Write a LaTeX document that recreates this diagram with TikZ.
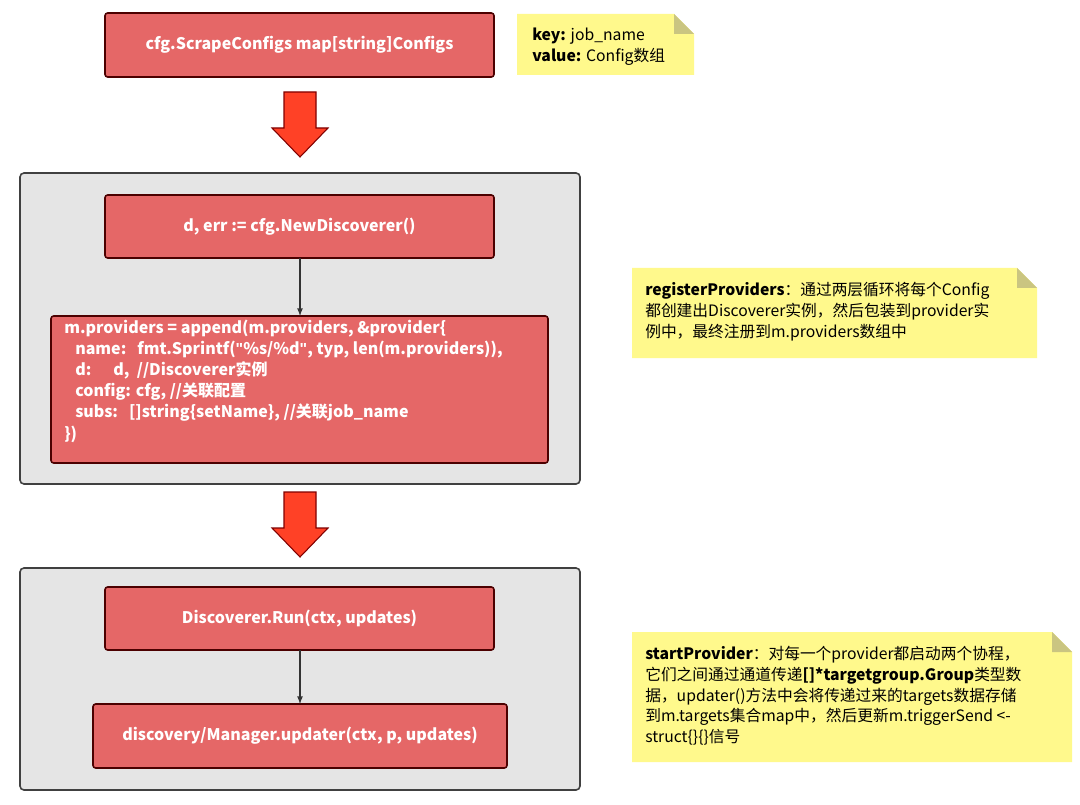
\documentclass[tikz,border=0pt]{standalone}
\usepackage{fontspec}
\setmainfont{Noto Sans CJK SC}
\newfontfamily\qfont{Liberation Sans}
\newcommand{\dq}{{\qfont\bfseries\symbol{34}}}
\begin{document}
\begin{tikzpicture}[x=0.75pt,y=-0.75pt,
  redbox/.style={draw=black!70!red,line width=1.2pt,fill=red!55!white!90!black,rounded corners=2pt,text=white,font=\bfseries\fontsize{12}{15}\selectfont},
  cont/.style={draw=black!75,line width=1.2pt,fill=black!10,rounded corners=3pt},
  note/.style={fill=yellow!45!white,draw=none},
  fold/.style={fill=yellow!60!black!60!white,draw=none},
  notetext/.style={anchor=north west,align=left,font=\fontsize{11.8}{15.6}\selectfont,inner sep=0pt},
  bigarrow/.style={fill=red!75!orange!85!white,draw=red!50!black,line width=0.8pt,line join=miter},
  conn/.style={draw=black!80,line width=1pt,-latex}]
\useasboundingbox (0,0) rectangle (1080,805);
\fill[white] (0,0) rectangle (1080,805);
% containers
\draw[cont] (20,173) rectangle (580,484);
\draw[cont] (20,568) rectangle (580,790);
% boxes
\draw[redbox] (105,13) rectangle (494,77);
\node[text=white,font=\bfseries\fontsize{12}{15}\selectfont] (b1) at (299.5,45) {cfg.ScrapeConfigs map[string]Configs};
\draw[redbox] (105,195) rectangle (494,258);
\node[text=white,font=\bfseries\fontsize{12}{15}\selectfont] (b2) at (299.5,226.5) {d, err := cfg.NewDiscoverer()};
\draw[redbox] (51,316) rectangle (548,463);
\node[text=white,font=\bfseries\fontsize{12}{15.8}\selectfont,anchor=north west,align=left,inner sep=0pt] (b3) at (64,320) {m.providers = append(m.providers, \&provider\{\\
\ \ \ name:\ \ \ fmt.Sprintf(\dq\%s/\%d\dq, typ, len(m.providers)),\\
\ \ \ d:\ \ \ \ \ \ d,\ \ //Discoverer实例\\
\ \ \ config: cfg, //关联配置\\
\ \ \ subs:\ \ \ []string\{setName\}, //关联job\_name\\
\})};
\draw[redbox] (105,587) rectangle (494,650);
\node[text=white,font=\bfseries\fontsize{12}{15}\selectfont] (b4) at (299.5,618.5) {Discoverer.Run(ctx, updates)};
\draw[redbox] (93,704) rectangle (507,768);
\node[text=white,font=\bfseries\fontsize{12}{15}\selectfont] (b5) at (300,736) {discovery/Manager.updater(ctx, p, updates)};
% connectors
\coordinate (c2b) at (300,258);
\coordinate (c3t) at (300,316);
\coordinate (c4b) at (300,650);
\coordinate (c5t) at (300,704);
\draw[conn] (c2b) -- (c3t);
\draw[conn] (c4b) -- (c5t);
% big arrows
\draw[bigarrow] (284,92) -- (316,92) -- (316,128) -- (328,128) -- (300,157) -- (272,128) -- (284,128) -- cycle;
\draw[bigarrow] (284,492) -- (316,492) -- (316,528) -- (328,528) -- (300,557) -- (272,528) -- (284,528) -- cycle;
% notes
\fill[note] (517,14) -- (674,14) -- (694,34) -- (694,75) -- (517,75) -- cycle;
\fill[fold] (674,14) -- (694,34) -- (674,34) -- cycle;
\node[notetext] (n1) at (532,28) {\textbf{key:} job\_name\\\textbf{value:} Config数组};
\fill[note] (632,268) -- (1017,268) -- (1037,288) -- (1037,358) -- (632,358) -- cycle;
\fill[fold] (1017,268) -- (1037,288) -- (1017,288) -- cycle;
\node[notetext] (n2) at (645,282) {\textbf{registerProviders}：通过两层循环将每个Config\\都创建出Discoverer实例，然后包装到provider实\\例中，最终注册到m.providers数组中};
\fill[note] (632,632) -- (1052,632) -- (1072,652) -- (1072,762) -- (632,762) -- cycle;
\fill[fold] (1052,632) -- (1072,652) -- (1052,652) -- cycle;
\node[notetext] (n3) at (645,646) {\textbf{startProvider}：对每一个provider都启动两个协程，\\它们之间通过通道传递\textbf{[]*targetgroup.Group}类型数\\据，updater()方法中会将传递过来的targets数据存储\\到m.targets集合map中，然后更新m.triggerSend <-\\struct\{\}\{\}信号};
\end{tikzpicture}
\end{document}
